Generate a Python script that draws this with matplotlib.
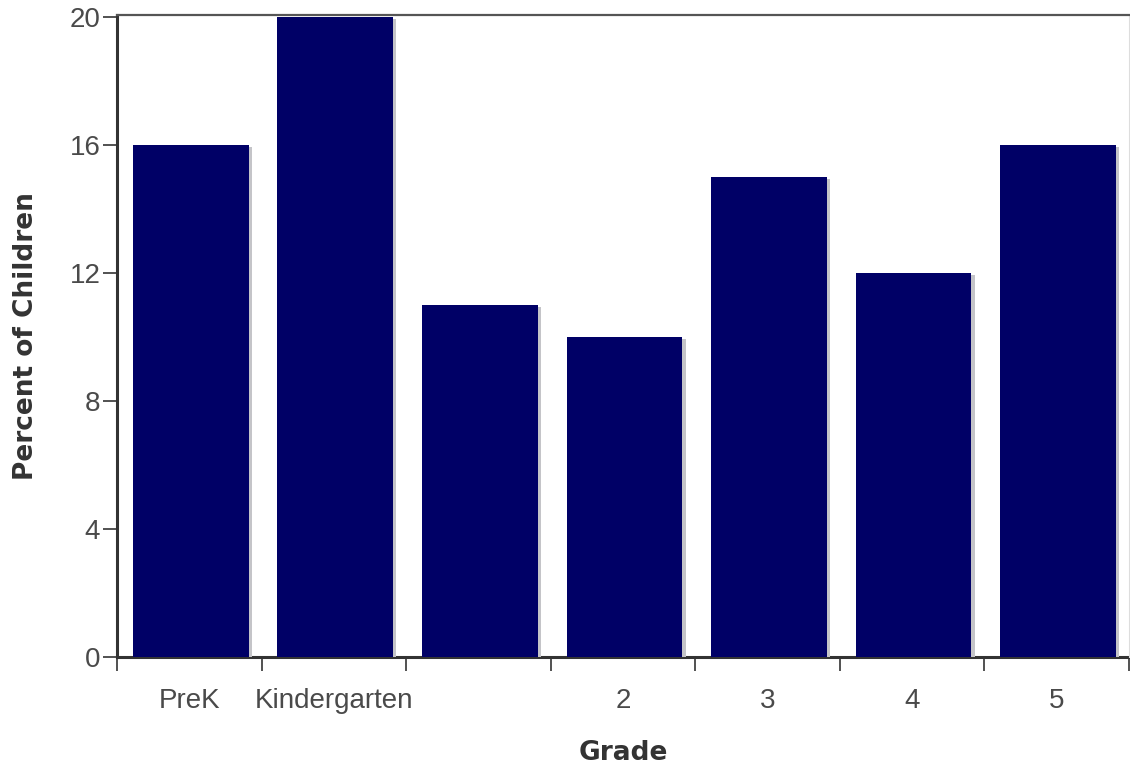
import numpy as np
import matplotlib
matplotlib.use("Agg")
import matplotlib.pyplot as plt
import matplotlib.patheffects as pe

# Data
grades = ["PreK", "Kindergarten", "1", "2", "3", "4", "5"]
tick_labels = ["PreK", "Kindergarten", "", "2", "3", "4", "5"]
percent = [16, 20, 11, 10, 15, 12, 16]
yticks = [0, 4, 8, 12, 16, 20]

fig = plt.figure(figsize=(11.3, 7.75), dpi=100)
ax = fig.add_axes([0.1035, 0.152, 0.8955, 0.8285])

x = np.arange(len(grades))
shadow = [pe.SimplePatchShadow(offset=(2.4, -1.5), shadow_rgbFace="#c4c4c8", alpha=1.0), pe.Normal()]
bars = ax.bar(x + 0.01, percent, width=0.8, color="#000066", zorder=2)
for b in bars:
    b.set_path_effects(shadow)

ax.set_xlim(-0.5, len(grades) - 0.5)
ax.set_ylim(0, 20.06)

tick_font = ["Liberation Sans Narrow", "Liberation Sans", "DejaVu Sans"]

ax.set_yticks(yticks)
ax.set_yticklabels([str(v) for v in yticks], family=tick_font, fontsize=20, color="#4a4a4a")
ax.tick_params(axis="y", length=10, width=1.2, color="#333333", pad=2)

# labels at category centres, ticks on category boundaries
ax.set_xticks(x)
ax.set_xticklabels(tick_labels, family=tick_font, fontsize=20, color="#4a4a4a")
ax.tick_params(axis="x", which="major", length=0, pad=22)
ax.set_xticks(np.arange(-0.5, len(grades), 1.0), minor=True)
ax.tick_params(axis="x", which="minor", length=10, width=1.2, color="#333333")

for side in ["left", "bottom"]:
    ax.spines[side].set_linewidth(2.2)
    ax.spines[side].set_color("#333333")
ax.spines["top"].set_linewidth(1.6)
ax.spines["top"].set_color("#555555")
ax.spines["right"].set_linewidth(0.8)
ax.spines["right"].set_color("#dddddd")
ax.spines["bottom"].set_zorder(1)

ax.set_xlabel("Grade", fontsize=19, fontweight="bold", color="#333333", labelpad=19)
ax.set_ylabel("Percent of Children", fontsize=19, fontweight="bold", color="#333333", labelpad=22)

fig.savefig("out.png", dpi=100)
